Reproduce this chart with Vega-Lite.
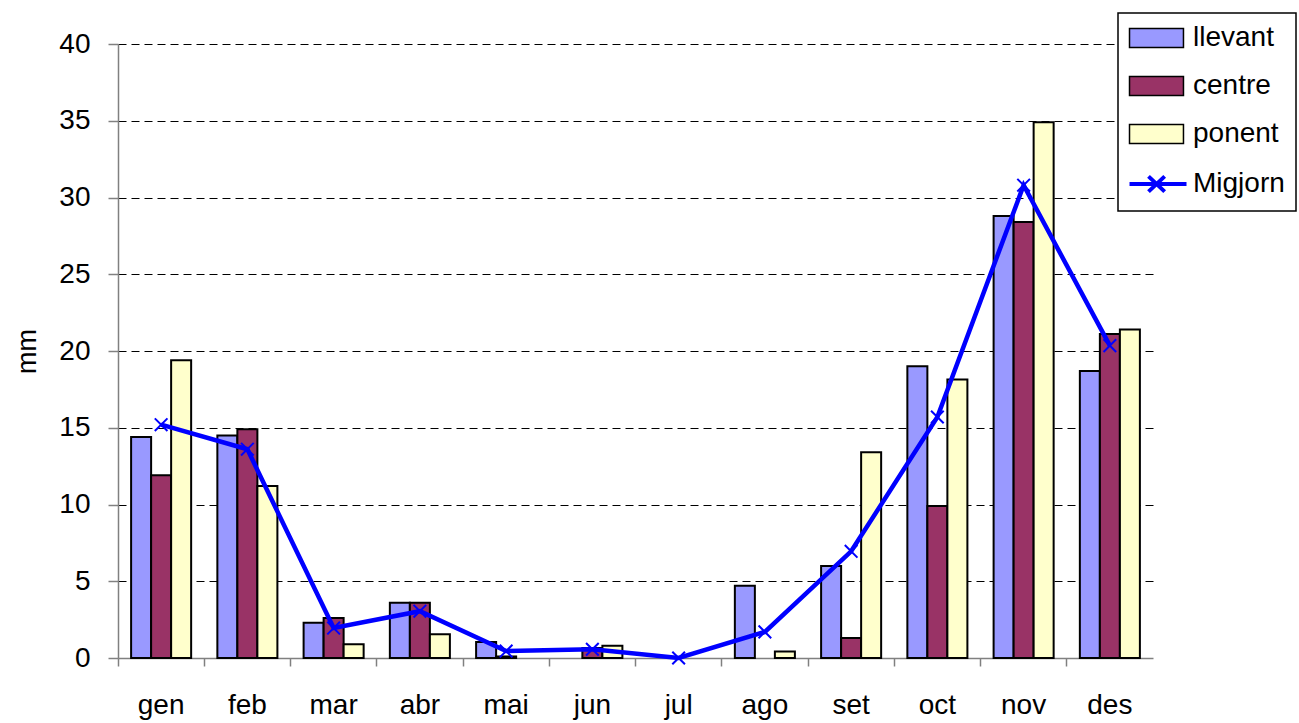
{
  "$schema": "https://vega.github.io/schema/vega-lite/v6.json",
  "width": 1035,
  "height": 614,
  "autosize": {"type": "none"},
  "padding": {"left": 118, "top": 44, "right": 146, "bottom": 65},
  "background": "white",
  "config": {
    "view": {"stroke": null},
    "font": "Liberation Sans",
    "axis": {
      "labelFont": "Liberation Sans",
      "labelFontSize": 28,
      "labelColor": "black",
      "domainColor": "#808080",
      "domainWidth": 1.5,
      "tickColor": "#808080",
      "tickWidth": 1.5
    }
  },
  "data": {
    "values": [
      {"month": "gen", "serie": "llevant", "value": 14.4},
      {"month": "gen", "serie": "centre", "value": 11.9},
      {"month": "gen", "serie": "ponent", "value": 19.4},
      {"month": "gen", "serie": "Migjorn", "value": 15.2},
      {"month": "feb", "serie": "llevant", "value": 14.5},
      {"month": "feb", "serie": "centre", "value": 14.9},
      {"month": "feb", "serie": "ponent", "value": 11.2},
      {"month": "feb", "serie": "Migjorn", "value": 13.6},
      {"month": "mar", "serie": "llevant", "value": 2.3},
      {"month": "mar", "serie": "centre", "value": 2.6},
      {"month": "mar", "serie": "ponent", "value": 0.9},
      {"month": "mar", "serie": "Migjorn", "value": 1.95},
      {"month": "abr", "serie": "llevant", "value": 3.6},
      {"month": "abr", "serie": "centre", "value": 3.6},
      {"month": "abr", "serie": "ponent", "value": 1.55},
      {"month": "abr", "serie": "Migjorn", "value": 3.05},
      {"month": "mai", "serie": "llevant", "value": 1.05},
      {"month": "mai", "serie": "centre", "value": 0.1},
      {"month": "mai", "serie": "ponent", "value": 0},
      {"month": "mai", "serie": "Migjorn", "value": 0.45},
      {"month": "jun", "serie": "llevant", "value": 0},
      {"month": "jun", "serie": "centre", "value": 0.65},
      {"month": "jun", "serie": "ponent", "value": 0.8},
      {"month": "jun", "serie": "Migjorn", "value": 0.57},
      {"month": "jul", "serie": "llevant", "value": 0},
      {"month": "jul", "serie": "centre", "value": 0},
      {"month": "jul", "serie": "ponent", "value": 0},
      {"month": "jul", "serie": "Migjorn", "value": 0},
      {"month": "ago", "serie": "llevant", "value": 4.7},
      {"month": "ago", "serie": "centre", "value": 0},
      {"month": "ago", "serie": "ponent", "value": 0.42},
      {"month": "ago", "serie": "Migjorn", "value": 1.7},
      {"month": "set", "serie": "llevant", "value": 6.0},
      {"month": "set", "serie": "centre", "value": 1.3},
      {"month": "set", "serie": "ponent", "value": 13.4},
      {"month": "set", "serie": "Migjorn", "value": 6.95},
      {"month": "oct", "serie": "llevant", "value": 19.0},
      {"month": "oct", "serie": "centre", "value": 9.9},
      {"month": "oct", "serie": "ponent", "value": 18.15},
      {"month": "oct", "serie": "Migjorn", "value": 15.7},
      {"month": "nov", "serie": "llevant", "value": 28.8},
      {"month": "nov", "serie": "centre", "value": 28.4},
      {"month": "nov", "serie": "ponent", "value": 34.9},
      {"month": "nov", "serie": "Migjorn", "value": 30.8},
      {"month": "des", "serie": "llevant", "value": 18.7},
      {"month": "des", "serie": "centre", "value": 21.1},
      {"month": "des", "serie": "ponent", "value": 21.4},
      {"month": "des", "serie": "Migjorn", "value": 20.35}
    ]
  },
  "encoding": {
    "y": {
      "field": "value",
      "type": "quantitative",
      "scale": {"domain": [0, 40], "nice": false, "zero": true},
      "axis": {
        "values": [0, 5, 10, 15, 20, 25, 30, 35, 40],
        "title": "mm",
        "titleFont": "Liberation Sans",
        "titleFontSize": 27,
        "titleFontWeight": "normal",
        "titleColor": "black",
        "titleX": -91,
        "titleY": 307,
        "titleAlign": "center",
        "titleBaseline": "middle",
        "tickSize": 10,
        "labelPadding": 18,
        "grid": true,
        "gridColor": "black",
        "gridDash": [8, 5],
        "gridWidth": 1,
        "gridOpacity": {"condition": {"test": "datum.value === 0", "value": 0}, "value": 1}
      }
    }
  },
  "layer": [
    {
      "transform": [{"filter": "datum.serie !== 'Migjorn' && datum.value > 0"}],
      "mark": {"type": "bar", "stroke": "black", "strokeWidth": 2},
      "encoding": {
        "x": {
          "field": "month",
          "type": "nominal",
          "sort": ["gen", "feb", "mar", "abr", "mai", "jun", "jul", "ago", "set", "oct", "nov", "des"],
          "scale": {"domain": ["gen", "feb", "mar", "abr", "mai", "jun", "jul", "ago", "set", "oct", "nov", "des"], "paddingInner": 0, "paddingOuter": 0},
          "axis": {"orient": "bottom", "labels": false, "bandPosition": 0, "ticks": true, "tickSize": 8, "domain": true, "grid": false, "title": null}
        },
        "xOffset": {
          "field": "serie",
          "type": "nominal",
          "scale": {"domain": ["llevant", "centre", "ponent"], "paddingInner": 0, "paddingOuter": 0.655}
        },
        "color": {
          "field": "serie",
          "type": "nominal",
          "scale": {"domain": ["llevant", "centre", "ponent", "Migjorn"], "range": ["#9999FF", "#993366", "#FFFFCC", "#0000FF"]},
          "legend": {
            "orient": "none",
            "legendX": 1000,
            "legendY": -31,
            "title": null,
            "fillColor": "white",
            "strokeColor": "black",
            "padding": 11,
            "labelFont": "Liberation Sans",
            "labelFontSize": 28,
            "labelColor": "black",
            "labelLimit": 0,
            "labelOffset": 36,
            "symbolSize": 361,
            "symbolStrokeColor": "black",
            "symbolStrokeWidth": 1.5,
            "rowPadding": 20,
            "encode": {
              "legend": {"update": {"strokeWidth": {"value": 1.5}}},
              "symbols": {
                "update": {
                  "shape": {"signal": "datum.value === 'Migjorn' ? 'M-1.42,0H4.58M0.58,-0.8L2.28,0.8M0.58,0.8L2.28,-0.8' : 'M-1.42,-1H4.26V1H-1.42Z'"},
                  "fill": {"signal": "datum.value === 'Migjorn' ? 'transparent' : scale('color', datum.value)"},
                  "stroke": {"signal": "datum.value === 'Migjorn' ? '#0000FF' : 'black'"},
                  "strokeWidth": {"signal": "datum.value === 'Migjorn' ? 4 : 1.5"},
                  "opacity": {"value": 1},
                  "size": {"value": 361}
                }
              }
            }
          }
        }
      }
    },
    {
      "transform": [{"filter": "datum.serie === 'Migjorn'"}],
      "mark": {
        "type": "line",
        "color": "#0000FF",
        "strokeWidth": 4.5,
        "point": {"shape": "M-1,-1L1,1M-1,1L1,-1", "filled": false, "size": 160, "strokeWidth": 2, "color": "#0000FF"}
      },
      "encoding": {
        "x": {
          "field": "month",
          "type": "nominal",
          "sort": ["gen", "feb", "mar", "abr", "mai", "jun", "jul", "ago", "set", "oct", "nov", "des"],
          "scale": {"domain": ["gen", "feb", "mar", "abr", "mai", "jun", "jul", "ago", "set", "oct", "nov", "des"], "paddingInner": 0, "paddingOuter": 0},
          "axis": {"orient": "bottom", "labels": true, "labelAngle": 0, "ticks": false, "domain": false, "grid": false, "title": null, "labelPadding": 33}
        }
      }
    }
  ],
  "resolve": {"axis": {"x": "independent"}}
}
